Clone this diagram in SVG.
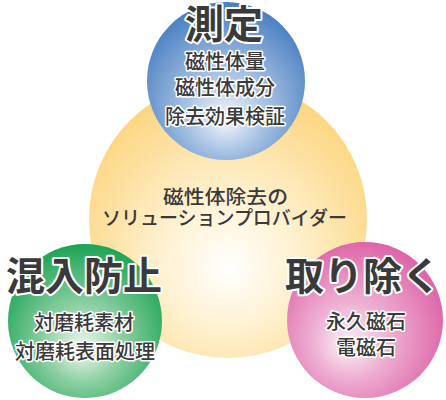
<svg xmlns="http://www.w3.org/2000/svg" width="446" height="400" viewBox="0 0 446 400">
<defs>
<radialGradient id="gY" cx="0.5" cy="0.62" r="0.62" fx="0.5" fy="0.68">
<stop offset="0" stop-color="#ffffff"/>
<stop offset="0.35" stop-color="#fff3d6"/>
<stop offset="1" stop-color="#fcd47c"/>
</radialGradient>
<radialGradient id="gB" cx="0.5" cy="0.62" r="0.62" fx="0.5" fy="0.75">
<stop offset="0" stop-color="#f4f7fc"/>
<stop offset="0.4" stop-color="#a9c3e4"/>
<stop offset="1" stop-color="#477dc0"/>
</radialGradient>
<radialGradient id="gG" cx="0.5" cy="0.6" r="0.62" fx="0.48" fy="0.68">
<stop offset="0" stop-color="#f2f9f3"/>
<stop offset="0.4" stop-color="#8fd0a4"/>
<stop offset="1" stop-color="#16a150"/>
</radialGradient>
<radialGradient id="gP" cx="0.45" cy="0.58" r="0.62" fx="0.38" fy="0.66">
<stop offset="0" stop-color="#fcf2f8"/>
<stop offset="0.4" stop-color="#eeafd2"/>
<stop offset="1" stop-color="#dc5ea4"/>
</radialGradient>
</defs>
<style>
text{font-family:"Noto Sans CJK JP","Noto Sans CJK SC",sans-serif;fill:#3a3a3a;text-anchor:middle}
.t{font-size:39px;font-weight:700;stroke:#ffffff;stroke-width:4;paint-order:stroke;stroke-linejoin:round}
.s{font-size:20px;font-weight:500;stroke:#ffffff;stroke-width:3;paint-order:stroke;stroke-linejoin:round}
.c{font-size:19px;font-weight:500}
</style>
<g id="center">
<circle cx="228" cy="219" r="139" fill="url(#gY)"/>
<text class="c" x="225.5" y="204" textLength="125" lengthAdjust="spacingAndGlyphs">磁性体除去の</text>
<text class="c" x="224.5" y="225" textLength="245" lengthAdjust="spacingAndGlyphs">ソリューションプロバイダー</text>
</g>
<g id="measure">
<circle cx="226" cy="81" r="79" fill="url(#gB)"/>
<text class="t" x="224" y="38">測定</text>
<text class="s" x="225" y="69">磁性体量</text>
<text class="s" x="225" y="95">磁性体成分</text>
<text class="s" x="225" y="124">除去効果検証</text>
</g>
<g id="prevent">
<circle cx="85" cy="321" r="77" fill="url(#gG)"/>
<text class="t" x="84" y="290">混入防止</text>
<text class="s" x="84" y="330">対磨耗素材</text>
<text class="s" x="85" y="359">対磨耗表面処理</text>
</g>
<g id="remove">
<circle cx="365" cy="320" r="78" fill="url(#gP)"/>
<text class="t" x="363" y="290">取り除く</text>
<text class="s" x="366" y="329">永久磁石</text>
<text class="s" x="366" y="355">電磁石</text>
</g>
<g id="connectors"/>
</svg>
